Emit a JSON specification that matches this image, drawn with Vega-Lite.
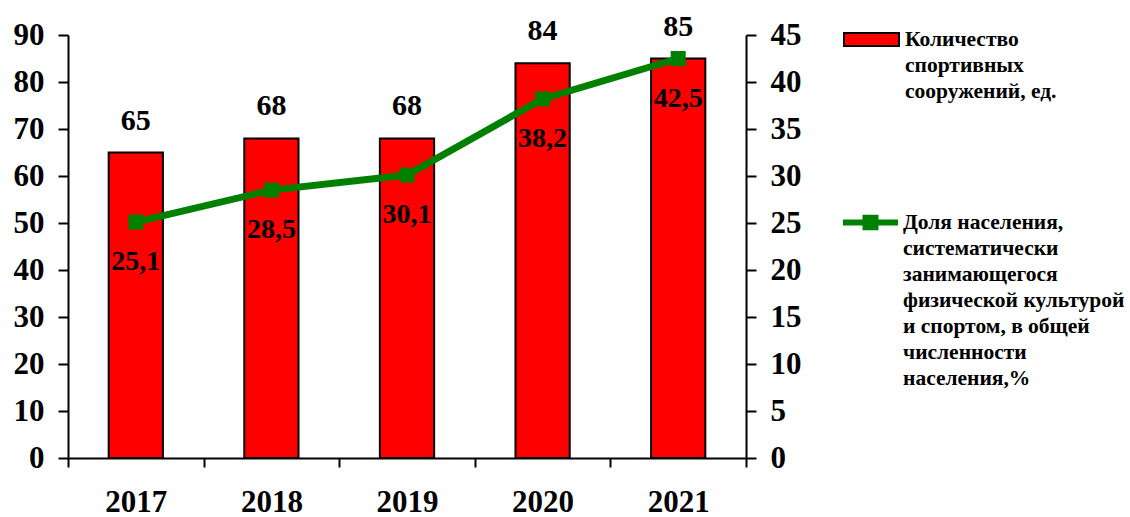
{
  "$schema": "https://vega.github.io/schema/vega-lite/v6.json",
  "width": 678,
  "height": 423,
  "autosize": {"type": "none"},
  "padding": {"left": 68, "top": 35, "right": 384, "bottom": 59},
  "background": "white",
  "config": {
    "view": {"stroke": null},
    "font": "Liberation Serif",
    "axis": {
      "domainColor": "black", "domainWidth": 2, "tickColor": "black", "tickWidth": 2, "tickSize": 9,
      "labelFont": "Liberation Serif", "labelFontSize": 31, "labelFontWeight": "bold", "labelColor": "black",
      "grid": false, "title": null
    },
    "legend": {
      "orient": "none", "title": null, "padding": 0,
      "labelFont": "Liberation Serif", "labelFontSize": 21.5, "labelFontWeight": "bold", "labelColor": "black",
      "labelLimit": 400, "labelOffset": 5
    }
  },
  "data": {
    "values": [
      {"year": "2017", "count": 65, "share": 25.1, "shareText": "25,1"},
      {"year": "2018", "count": 68, "share": 28.5, "shareText": "28,5"},
      {"year": "2019", "count": 68, "share": 30.1, "shareText": "30,1"},
      {"year": "2020", "count": 84, "share": 38.2, "shareText": "38,2"},
      {"year": "2021", "count": 85, "share": 42.5, "shareText": "42,5"}
    ]
  },
  "encoding": {
    "x": {
      "field": "year", "type": "nominal",
      "scale": {"paddingInner": 0, "paddingOuter": 0},
      "axis": {"labelAngle": 0, "tickBand": "extent", "labelPadding": 20, "title": null}
    }
  },
  "layer": [
    {
      "layer": [
        {
          "mark": {"type": "bar", "stroke": "black", "strokeWidth": 2, "width": {"band": 0.4}},
          "encoding": {
            "y": {
              "field": "count", "type": "quantitative",
              "scale": {"domain": [0, 90], "nice": false},
              "axis": {"values": [0, 10, 20, 30, 40, 50, 60, 70, 80, 90], "labelPadding": 14, "tickSize": 10, "title": null}
            },
            "fill": {
              "datum": "Количество|спортивных|сооружений, ед.", "type": "nominal",
              "scale": {"range": ["#ff0000"]},
              "legend": {
                "legendX": 775, "legendY": -24,
                "symbolType": "M-1,-0.236H1V0.236H-1Z", "symbolSize": 3025,
                "symbolStrokeColor": "black", "symbolStrokeWidth": 2,
                "labelExpr": "split(datum.label, '|')", "labelBaseline": "middle",
                "encode": {"labels": {"update": {"lineHeight": {"value": 26}}}}
              }
            }
          }
        },
        {
          "mark": {"type": "text", "dy": -32, "fontSize": 30, "fontWeight": "bold", "font": "Liberation Serif", "color": "black", "baseline": "middle"},
          "encoding": {
            "y": {"field": "count", "type": "quantitative"},
            "text": {"field": "count", "type": "quantitative"}
          }
        }
      ]
    },
    {
      "layer": [
        {
          "mark": {"type": "line", "strokeWidth": 7},
          "encoding": {
            "y": {
              "field": "share", "type": "quantitative",
              "scale": {"domain": [0, 45], "nice": false},
              "axis": {"orient": "right", "values": [0, 5, 10, 15, 20, 25, 30, 35, 40, 45], "labelPadding": 14, "tickSize": 10, "title": null}
            },
            "stroke": {
              "datum": "Доля населения,|систематически|занимающегося|физической культурой|и спортом, в общей|численности|населения,%", "type": "nominal",
              "scale": {"range": ["#008000"]},
              "legend": {
                "legendX": 775, "legendY": 160,
                "symbolType": "M-1,-0.11H1V0.11H-1Z M-0.29,-0.28H0.29V0.28H-0.29Z", "symbolSize": 3025,
                "symbolFillColor": "#008000", "symbolStrokeWidth": 0,
                "labelExpr": "split(datum.label, '|')", "labelBaseline": "middle",
                "encode": {"labels": {"update": {"lineHeight": {"value": 26}}}}
              }
            }
          }
        },
        {
          "mark": {"type": "square", "size": 225, "color": "#008000", "filled": true, "opacity": 1},
          "encoding": {"y": {"field": "share", "type": "quantitative"}}
        },
        {
          "mark": {"type": "text", "dy": 40, "fontSize": 28, "fontWeight": "bold", "font": "Liberation Serif", "color": "black", "baseline": "middle"},
          "encoding": {
            "y": {"field": "share", "type": "quantitative"},
            "text": {"field": "shareText", "type": "nominal"}
          }
        }
      ]
    }
  ],
  "resolve": {"scale": {"y": "independent", "fill": "independent", "stroke": "independent"}}
}
